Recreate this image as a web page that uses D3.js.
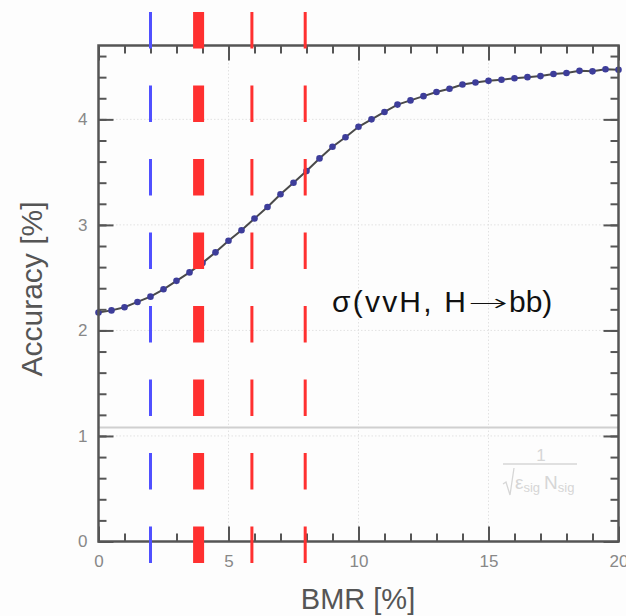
<!DOCTYPE html>
<html>
<head>
<meta charset="utf-8">
<script src="https://cdn.jsdelivr.net/npm/d3@7"></script>
<style>
  body { margin: 0; background: #fdfdfd; }
  svg { display: block; font-family: "Liberation Sans", Arial, sans-serif; }
</style>
</head>
<body>
<svg id="chart" width="626" height="616"></svg>
<script>
// BMR [%] values of the scan
const bmr = [0, 0.5, 1, 1.5, 2, 2.5, 3, 3.5, 4, 4.5, 5, 5.5, 6, 6.5, 7, 7.5, 8, 8.5, 9, 9.5,
  10, 10.5, 11, 11.5, 12, 12.5, 13, 13.5, 14, 14.5, 15, 15.5, 16, 16.5, 17, 17.5, 18, 18.5, 19, 19.5, 20];
// accuracy [%] at each BMR
const accuracy = [2.17, 2.19, 2.22, 2.27, 2.32, 2.39, 2.47, 2.55, 2.64, 2.74, 2.85, 2.95, 3.06, 3.17, 3.29,
  3.40, 3.51, 3.63, 3.74, 3.83, 3.93, 4.00, 4.07, 4.14, 4.18, 4.22, 4.26, 4.29, 4.33, 4.35, 4.365, 4.375,
  4.39, 4.40, 4.41, 4.43, 4.44, 4.46, 4.455, 4.475, 4.47];
// vertical dashed markers (BMR values) and their kind
const marker_bmr = [2, 3.85, 5.9, 7.95];
const marker_kind = ["blue", "red-thick", "red", "red"];
// statistical limit 1/sqrt(eps N)
const stat_limit = 1.08;
const x_ticks = [0, 5, 10, 15, 20];
const y_ticks = [0, 1, 2, 3, 4];
const x_minor = [0, 1, 2, 3, 4, 5, 6, 7, 8, 9, 10, 11, 12, 13, 14, 15, 16, 17, 18, 19, 20];
const y_minor = [0, 0.2, 0.4, 0.6, 0.8, 1, 1.2, 1.4, 1.6, 1.8, 2, 2.2, 2.4, 2.6, 2.8, 3, 3.2, 3.4, 3.6, 3.8, 4, 4.2, 4.4, 4.6];

let svg = d3.select("#chart");
let m_left = 98.5, m_right = 618.5, m_top = 45.5, m_bottom = 541.5;

let x = d3.scaleLinear().domain([0, 20]).range([m_left, m_right]);
let y = d3.scaleLinear().domain([0, 4.7]).range([m_bottom, m_top]);

// grid (dotted)
let grid = svg.append("g").attr("stroke", "#e2e2e2").attr("stroke-width", 1).attr("stroke-dasharray", "1.5 2");
x_ticks.slice(1, -1).forEach((v) => {
  grid.append("line").attr("x1", x(v)).attr("x2", x(v)).attr("y1", m_top).attr("y2", m_bottom);
});
y_ticks.slice(1).forEach((v) => {
  grid.append("line").attr("x1", m_left).attr("x2", m_right).attr("y1", y(v)).attr("y2", y(v));
});

// statistical limit line
svg.append("line")
  .attr("x1", m_left).attr("x2", m_right)
  .attr("y1", y(stat_limit)).attr("y2", y(stat_limit))
  .attr("stroke", "#d0d0d0").attr("stroke-width", 2);

// fraction label 1/sqrt(eps_sig N_sig)
let frac = svg.append("g").attr("fill", "#d6d6d6").attr("font-size", 17);
frac.append("text").attr("x", 541).attr("y", 461).attr("text-anchor", "middle").text("1");
frac.append("line").attr("x1", 503).attr("x2", 577).attr("y1", 464).attr("y2", 464)
  .attr("stroke", "#d6d6d6").attr("stroke-width", 1.3);
frac.append("path").attr("d", "M503,484 L506,482 L510,495 L514,468")
  .attr("fill", "none").attr("stroke", "#d6d6d6").attr("stroke-width", 1.3);
let den = frac.append("text").attr("x", 515).attr("y", 489).attr("font-size", 19);
den.append("tspan").text("\u03b5");
den.append("tspan").attr("font-size", 13).attr("dy", 3).text("sig");
den.append("tspan").attr("dy", -3).attr("dx", 4).text("N");
den.append("tspan").attr("font-size", 13).attr("dy", 3).text("sig");

// curve
let line = d3.line().x((d) => x(d[0])).y((d) => y(d[1]));
let pts = bmr.map((b, i) => [b, accuracy[i]]);
svg.append("path").datum(pts)
  .attr("d", line)
  .attr("fill", "none").attr("stroke", "#4a4a4a").attr("stroke-width", 2);
svg.append("g").selectAll("circle").data(pts).join("circle")
  .attr("cx", (d) => x(d[0])).attr("cy", (d) => y(d[1]))
  .attr("r", 3.3).attr("fill", "#3d3d9a");

// axes: ticks all point inside
function draw_axis(gen, transform, size, values, pad) {
  let g = svg.append("g").attr("transform", transform)
    .call(gen.tickValues(values).tickSizeInner(size).tickSizeOuter(0)
      .tickPadding(pad || 0)
      .tickFormat(pad ? d3.format("d") : ""));
  g.select(".domain").remove();
  g.selectAll(".tick line").attr("stroke", "#555").attr("stroke-width", 2);
  g.selectAll(".tick text").attr("fill", "#888").attr("font-size", 17)
    .attr("font-family", "Liberation Sans, Arial, sans-serif");
  return g;
}
draw_axis(d3.axisBottom(x), `translate(0,${m_bottom})`, -8, x_minor, 0);
draw_axis(d3.axisBottom(x), `translate(0,${m_bottom})`, -15, x_ticks, 13);
draw_axis(d3.axisTop(x), `translate(0,${m_top})`, -8, x_minor, 0);
draw_axis(d3.axisTop(x), `translate(0,${m_top})`, -15, x_ticks, 0);
draw_axis(d3.axisLeft(y), `translate(${m_left},0)`, -8, y_minor, 0);
draw_axis(d3.axisLeft(y), `translate(${m_left},0)`, -15, y_ticks, 11);
draw_axis(d3.axisRight(y), `translate(${m_right},0)`, -8, y_minor, 0);
draw_axis(d3.axisRight(y), `translate(${m_right},0)`, -15, y_ticks, 0);

// frame
svg.append("rect")
  .attr("x", m_left).attr("y", m_top).attr("width", m_right - m_left).attr("height", m_bottom - m_top)
  .attr("fill", "none").attr("stroke", "#555").attr("stroke-width", 2.5);

// dashed markers, drawn on top
let marker_style = {
  "blue": {color: "#5050ff", width: 3},
  "red-thick": {color: "#ff3030", width: 11},
  "red": {color: "#ff3030", width: 3},
};
svg.append("g").selectAll("line").data(marker_bmr).join("line")
  .attr("x1", (d) => x(d)).attr("x2", (d) => x(d))
  .attr("y1", 12).attr("y2", 563)
  .attr("stroke", (d, i) => marker_style[marker_kind[i]].color)
  .attr("stroke-width", (d, i) => marker_style[marker_kind[i]].width)
  .attr("stroke-dasharray", "36.5 37");

// process label, split so the arrow can be long like the original
let title = svg.append("g").attr("font-size", 30).attr("fill", "#111");
title.append("text").attr("x", 332).attr("y", 312)
  .attr("textLength", 134).attr("lengthAdjust", "spacing")
  .text("\u03c3(vvH, H");
title.append("text").attr("x", 468).attr("y", 311)
  .attr("font-family", "DejaVu Sans").attr("font-weight", 200).attr("font-size", 24)
  .attr("textLength", 40).attr("lengthAdjust", "spacingAndGlyphs")
  .text("\u2192");
title.append("text").attr("x", 509).attr("y", 312)
  .text("bb)");

svg.append("text")
  .attr("transform", "translate(42,289) rotate(-90)")
  .attr("text-anchor", "middle")
  .attr("font-size", 30).attr("fill", "#555")
  .text("Accuracy [%]");

svg.append("text")
  .attr("x", 358).attr("y", 609)
  .attr("text-anchor", "middle")
  .attr("font-size", 29).attr("fill", "#555")
  .text("BMR [%]");
</script>
</body>
</html>
